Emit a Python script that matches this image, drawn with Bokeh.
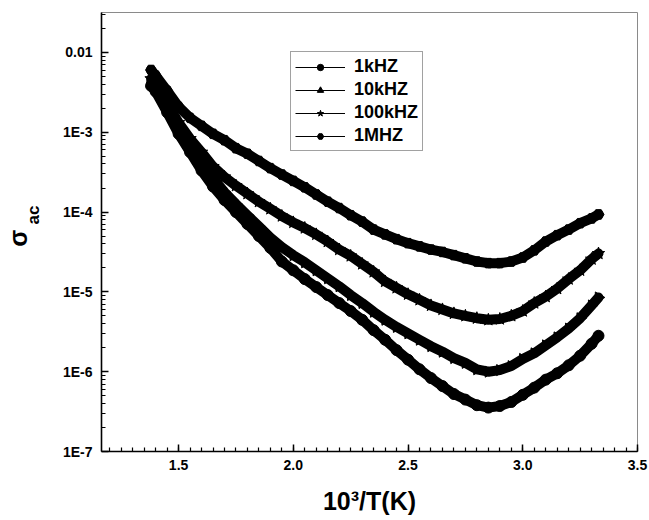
import numpy as np
from bokeh.plotting import figure
from bokeh.models import (Range1d, FixedTicker, CustomJSTickFormatter, LogAxis,
                          Legend, LegendItem)
from bokeh.embed import file_html
from bokeh.resources import INLINE

# ---- data (x = 10^3/T, values = log10(sigma_ac)) ----
inv_T = [1.38, 1.40, 1.45, 1.50, 1.55, 1.60, 1.65, 1.70, 1.75, 1.80, 1.85,
         1.90, 1.95, 2.00, 2.05, 2.10, 2.15, 2.20, 2.25, 2.30, 2.35, 2.40,
         2.45, 2.50, 2.55, 2.60, 2.65, 2.70, 2.75, 2.80, 2.85, 2.90, 2.95,
         3.00, 3.05, 3.10, 3.15, 3.20, 3.25, 3.30, 3.33]

log_sigma_1MHz = [-2.22, -2.29, -2.48, -2.68, -2.82, -2.92, -3.02, -3.10, -3.20,
                  -3.27, -3.36, -3.45, -3.53, -3.61, -3.69, -3.78, -3.87, -3.95,
                  -4.04, -4.12, -4.22, -4.28, -4.34, -4.39, -4.43, -4.47, -4.50,
                  -4.54, -4.58, -4.62, -4.64, -4.64, -4.62, -4.57, -4.48, -4.37,
                  -4.29, -4.22, -4.14, -4.08, -4.03]

log_sigma_100kHz = [-2.33, -2.40, -2.64, -2.88, -3.08, -3.25, -3.43, -3.56, -3.67,
                    -3.77, -3.87, -3.96, -4.05, -4.13, -4.20, -4.28, -4.37, -4.47,
                    -4.55, -4.65, -4.75, -4.87, -4.95, -5.03, -5.10, -5.17, -5.22,
                    -5.27, -5.30, -5.33, -5.35, -5.34, -5.30, -5.24, -5.14, -5.06,
                    -4.96, -4.84, -4.73, -4.59, -4.52]

log_sigma_10kHz = [-2.38, -2.45, -2.70, -2.95, -3.18, -3.38, -3.58, -3.75, -3.90,
                   -4.04, -4.18, -4.32, -4.44, -4.54, -4.63, -4.73, -4.83, -4.93,
                   -5.04, -5.14, -5.25, -5.35, -5.44, -5.52, -5.60, -5.68, -5.75,
                   -5.83, -5.89, -5.97, -6.00, -5.98, -5.93, -5.84, -5.77, -5.67,
                   -5.57, -5.46, -5.33, -5.17, -5.07]

log_sigma_1kHz = [-2.42, -2.49, -2.75, -3.02, -3.25, -3.48, -3.68, -3.85, -4.00,
                  -4.15, -4.30, -4.45, -4.62, -4.73, -4.84, -4.94, -5.04, -5.14,
                  -5.24, -5.35, -5.48, -5.60, -5.73, -5.85, -5.97, -6.08, -6.18,
                  -6.28, -6.35, -6.42, -6.45, -6.43, -6.38, -6.29, -6.20, -6.10,
                  -6.02, -5.92, -5.80, -5.65, -5.55]

series_labels = ["1kHZ", "10kHZ", "100kHZ", "1MHZ"]

x_major_ticks = [1.5, 2.0, 2.5, 3.0, 3.5]
x_minor_ticks = [round(1.20 + 0.05 * i, 2) for i in range(47)]
y_major_ticks = [1e-7, 1e-6, 1e-5, 1e-4, 1e-3, 1e-2]
y_minor_ticks = [m * d for d in [1e-7, 1e-6, 1e-5, 1e-4, 1e-3, 1e-2]
                 for m in range(2, 10) if m * d < 0.0316]

FONT = "Liberation Sans"

p = figure(width=649, height=520, y_axis_type="log",
           x_range=Range1d(1.164, 3.5), y_range=Range1d(1e-7, 10 ** -1.5),
           output_backend="svg", toolbar_location=None,
           min_border_left=99, min_border_right=12, min_border_top=12,
           min_border_bottom=69)
p.grid.visible = False
p.outline_line_color = "#8a8a8a"
p.outline_line_width = 1
p.background_fill_color = "white"
p.border_fill_color = "white"

markers = [("circle", 0.0, 11), ("triangle", -np.pi / 2, 11),
           ("star", 0.0, 13), ("hex", 0.0, 11)]
all_logs = [log_sigma_1kHz, log_sigma_10kHz, log_sigma_100kHz, log_sigma_1MHz]

items = []
for lbl, logs, (mk, ang, sz) in zip(series_labels, all_logs, markers):
    ys = [10 ** v for v in logs]
    p.line(inv_T, ys, line_width=10, line_color="black", line_join="round",
           line_cap="round")
    thin = p.line(inv_T, ys, line_width=1, line_color="black")
    sc = p.scatter(inv_T, ys, marker=mk, angle=ang, size=sz,
                   fill_color="black", line_color="black")
    items.append(LegendItem(label=lbl, renderers=[thin, sc]))

legend = Legend(items=items, location=(189, 300))
legend.border_line_color = "#444444"
legend.border_line_width = 1.2
legend.label_text_font = FONT
legend.label_text_font_style = "bold"
legend.label_text_font_size = "18px"
legend.label_text_color = "black"
legend.glyph_width = 50
legend.glyph_height = 16
legend.label_height = 16
legend.spacing = 2
legend.padding = 4
legend.margin = 0
legend.label_standoff = 9
p.add_layout(legend)

# axes
for ax in (p.xaxis[0], p.yaxis[0]):
    ax.axis_line_width = 1.6
    ax.axis_line_color = "black"
    ax.major_tick_in = 7
    ax.major_tick_out = 0
    ax.minor_tick_in = 4
    ax.minor_tick_out = 0
    ax.major_tick_line_width = 1.5
    ax.minor_tick_line_width = 1.2
    ax.major_label_text_font = FONT
    ax.major_label_text_font_style = "bold"
    ax.major_label_text_font_size = "14px"
    ax.major_label_text_color = "black"
    ax.axis_label_text_color = "black"
    ax.axis_label_text_font = FONT
    ax.axis_label_text_font_style = "bold"

p.xaxis.ticker = FixedTicker(ticks=x_major_ticks, minor_ticks=x_minor_ticks)
p.xaxis.formatter = CustomJSTickFormatter(code="return tick.toFixed(1);")
p.xaxis.major_label_standoff = 8
p.xaxis.axis_label = "10³/T(K)"
p.xaxis.axis_label_text_font_size = "25px"
p.xaxis.axis_label_standoff = 14

p.yaxis.ticker = FixedTicker(ticks=y_major_ticks, minor_ticks=y_minor_ticks)
p.yaxis.formatter = CustomJSTickFormatter(code="""
const e = Math.round(Math.log10(tick));
return e == -2 ? "0.01" : "1E" + e;
""")
p.yaxis.major_label_standoff = 9
# subscript part of the y title ("ac"), shifted upward with leading em spaces
p.yaxis.axis_label = "\u2003\u2003ac"
p.yaxis.axis_label_text_font_size = "17px"
p.yaxis.axis_label_standoff = 17

# outer axis carrying the main symbol of the y title
sig_axis = LogAxis(ticker=FixedTicker(ticks=[]), axis_line_color=None,
                   major_tick_line_color=None, minor_tick_line_color=None,
                   major_label_text_font_size="0px", axis_label="σ\u2002",
                   axis_label_text_font=FONT, axis_label_text_font_style="bold",
                   axis_label_text_color="black",
                   axis_label_text_font_size="25px", axis_label_standoff=-11)
p.add_layout(sig_axis, "left")

open("out.html", "w").write(file_html(p, INLINE))
